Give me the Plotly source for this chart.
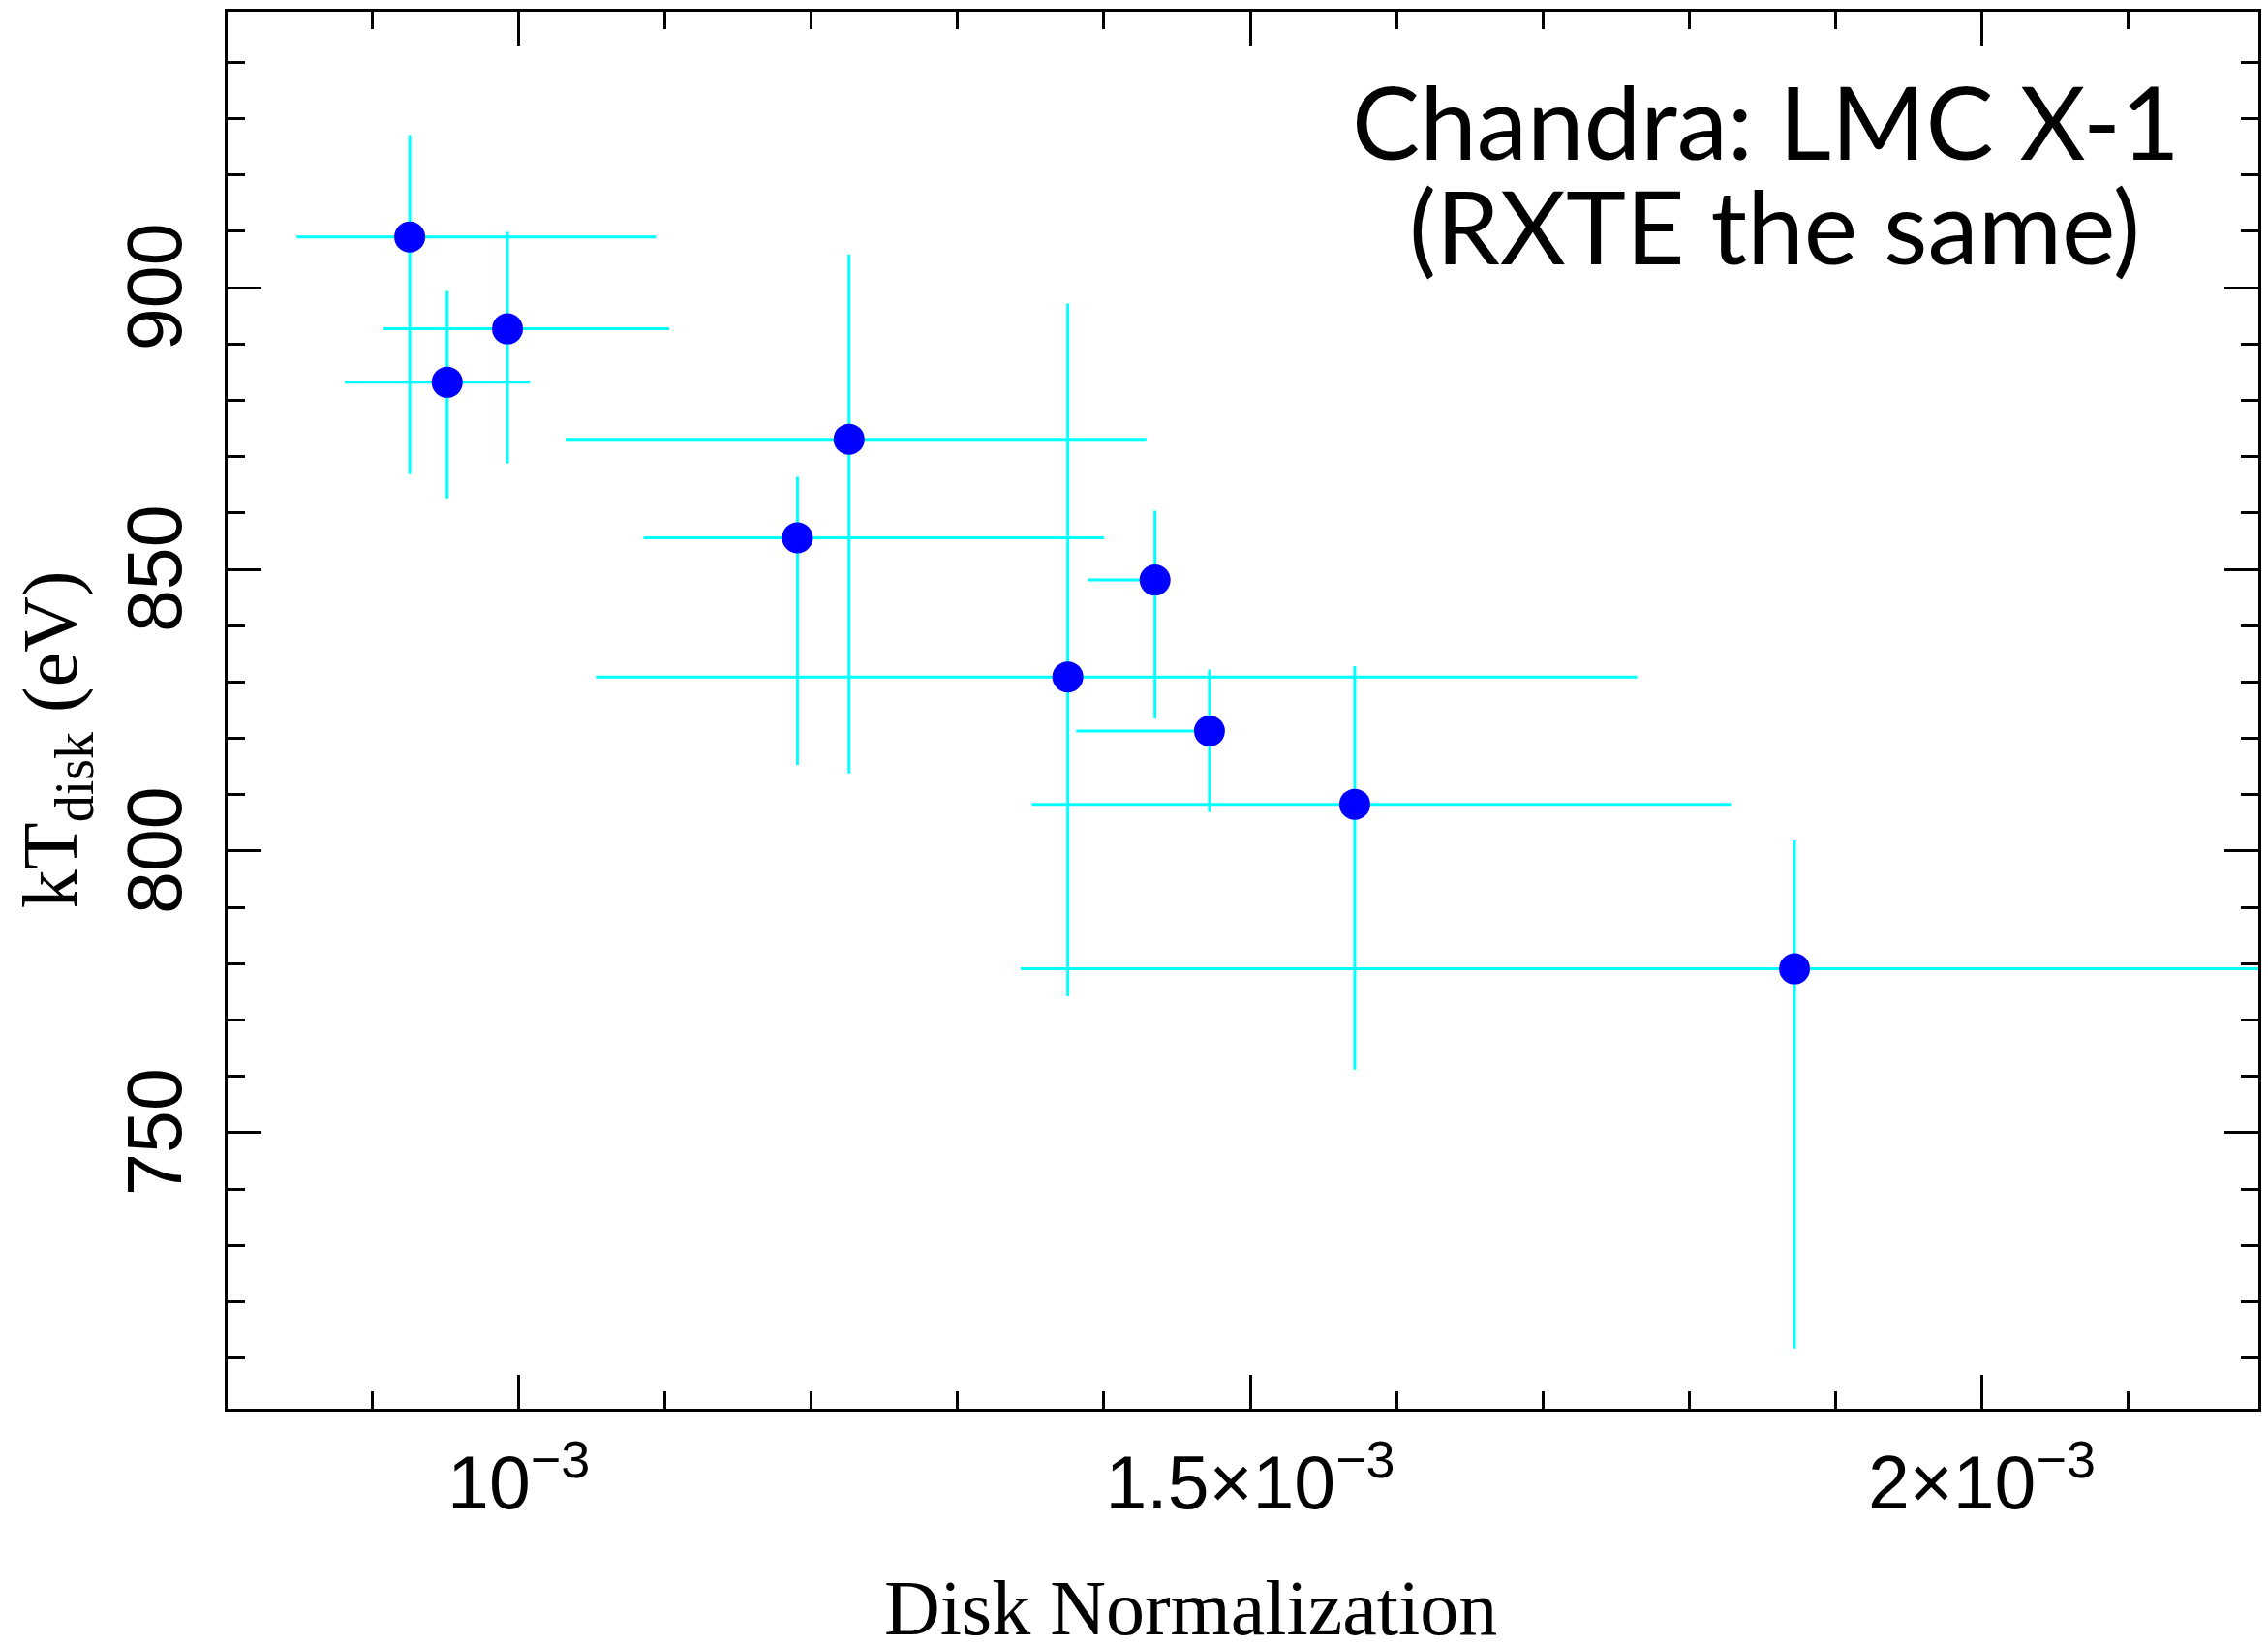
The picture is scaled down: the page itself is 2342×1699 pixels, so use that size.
import numpy as np
import plotly.graph_objects as go

# Disk normalization (units of 1e-3) and kT_disk (eV), with error-bar bounds
norm_e3 = [0.9255, 0.9923, 0.9511, 1.2258, 1.1905, 1.4349, 1.3753, 1.4721, 1.5714, 1.872]
norm_lo_e3 = [0.8482, 0.9076, 0.8810, 1.0320, 1.0853, 1.3890, 1.0527, 1.3810, 1.3507, 1.343]
norm_hi_e3 = [1.0938, 1.1028, 1.0077, 1.4290, 1.4000, 1.4400, 1.7644, 1.4820, 1.8286, 2.300]
kT = [909.0, 892.7, 883.2, 873.1, 855.6, 848.1, 830.9, 821.3, 808.3, 779.1]
kT_lo = [866.9, 868.8, 862.6, 813.8, 815.3, 823.5, 774.2, 806.9, 761.2, 711.7]
kT_hi = [927.1, 909.9, 899.4, 905.9, 866.4, 860.4, 897.2, 832.2, 832.8, 801.9]

x_tickvals = [1e-3, 1.5e-3, 2e-3]
x_ticktext = ["10<sup>\u22123</sup>", "1.5\u00d710<sup>\u22123</sup>", "2\u00d710<sup>\u22123</sup>"]
y_tickvals = [750, 800, 850, 900]
y_ticktext = ["750", "800", "850", "900"]

x = np.array(norm_e3) * 1e-3
xlo = np.array(norm_lo_e3) * 1e-3
xhi = np.array(norm_hi_e3) * 1e-3
y = np.array(kT)
ylo = np.array(kT_lo)
yhi = np.array(kT_hi)

fig = go.Figure()
fig.add_trace(go.Scatter(
    x=x, y=y, mode="markers",
    marker=dict(symbol="circle", size=32, color="#0000ff", line=dict(width=0)),
    error_x=dict(type="data", symmetric=False, array=xhi - x, arrayminus=x - xlo,
                 color="#00ffff", thickness=3, width=0),
    error_y=dict(type="data", symmetric=False, array=yhi - y, arrayminus=y - ylo,
                 color="#00ffff", thickness=3, width=0),
    showlegend=False,
))

xtickfont = dict(family="Liberation Sans, Arial, sans-serif", size=77, color="black")
ytickfont = dict(family="Liberation Sans, Arial, sans-serif", size=79, color="black")

fig.update_layout(
    width=2342, height=1699,
    margin=dict(l=235, r=7, t=12, b=244, pad=0),
    paper_bgcolor="white", plot_bgcolor="white",
    xaxis=dict(
        range=[0.801e-3, 2.189e-3], showgrid=False, zeroline=False,
        showline=True, linecolor="black", linewidth=3, mirror="ticks",
        ticks="inside", ticklen=35, tickwidth=2.5, tickcolor="black",
        tickmode="array", tickvals=x_tickvals, ticktext=x_ticktext,
        tickfont=xtickfont, ticklabelstandoff=8,
        minor=dict(ticks="inside", ticklen=18, tickwidth=2.5, tickcolor="black",
                   tickmode="linear", tick0=0, dtick=1e-4, showgrid=False),
    ),
    yaxis=dict(
        range=[701, 949], showgrid=False, zeroline=False,
        showline=True, linecolor="black", linewidth=3, mirror="ticks",
        ticks="inside", ticklen=35, tickwidth=2.5, tickcolor="black",
        tickmode="array", tickvals=y_tickvals, ticktext=y_ticktext,
        tickfont=ytickfont, tickangle=-90, ticklabelstandoff=13, ticklabelshift=11,
        minor=dict(ticks="inside", ticklen=18, tickwidth=2.5, tickcolor="black",
                   tickmode="linear", tick0=0, dtick=10, showgrid=False),
    ),
)

serif = dict(family="Liberation Serif, Times New Roman, serif", size=80, color="black")
gill = dict(family="Lato, sans-serif", size=105, color="black")

fig.add_annotation(text="Disk Normalization", xref="paper", yref="paper",
                   x=0.4743, y=-0.1428, xanchor="center", yanchor="middle",
                   showarrow=False, font=serif)
fig.add_annotation(text="kT<sub>disk</sub> (eV)", xref="paper", yref="paper",
                   x=-0.0843, y=0.4789, xanchor="center", yanchor="middle",
                   textangle=-90, showarrow=False, font=serif)
fig.add_annotation(text="Chandra: LMC X-1", xref="paper", yref="paper",
                   x=0.7576, y=0.9224, xanchor="center", yanchor="middle",
                   showarrow=False, font=gill)
fig.add_annotation(text="(RXTE the same)", xref="paper", yref="paper",
                   x=0.7619, y=0.8472, xanchor="center", yanchor="middle",
                   showarrow=False, font=gill)

fig.write_html("out.html")
